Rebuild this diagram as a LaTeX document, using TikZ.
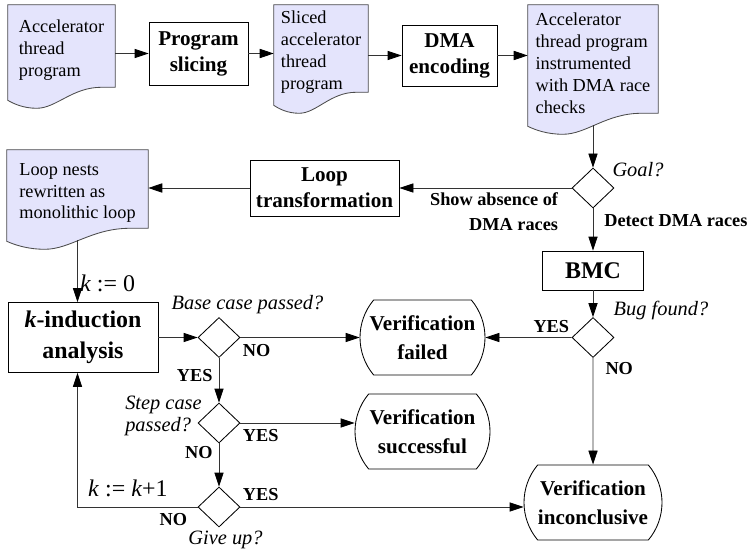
\documentclass[tikz,border=0pt]{standalone}
\usepackage{fontspec}
\setmainfont{Liberation Serif}
\usetikzlibrary{arrows.meta,shapes.geometric,shapes.misc,calc,backgrounds}
\definecolor{docfill}{RGB}{228,228,252}

% wavy lower edge of a document node, drawn behind its text
\newcommand\docwave[1]{%
  \begin{pgfonlayer}{background}
    \path[docedge] (#1.north west) -- (#1.north east) -- ([yshift=0.2cm]#1.south east)
      -- ($(#1.south west)!0.87!(#1.south east)+(0,0.2)$)
      .. controls ($(#1.south west)!0.6!(#1.south east)+(0,0.2)$)
             and ($(#1.south west)!0.45!(#1.south east)+(0,-0.325)$)
      .. ($(#1.south west)!0.27!(#1.south east)+(0,-0.325)$)
      .. controls ($(#1.south west)!0.15!(#1.south east)+(0,-0.325)$)
             and ($(#1.south west)!0.06!(#1.south east)+(0,-0.22)$)
      .. ([yshift=-0.125cm]#1.south west) -- cycle;
  \end{pgfonlayer}}

\begin{document}
\begin{tikzpicture}[
  docu/.style    = {rectangle, align=left, inner sep=0pt,
                    font=\fontsize{13}{15.6}\selectfont},
  proc/.style    = {draw, semithick, rectangle, align=center,
                    font=\fontsize{15}{18.5}\selectfont\bfseries},
  term/.style    = {draw, semithick, rounded rectangle, rounded rectangle arc length=80,
                    align=center, minimum height=1.875cm, inner sep=0pt,
                    font=\fontsize{15}{20.5}\selectfont\bfseries},
  cond/.style    = {draw, semithick, diamond, minimum width=1.05cm, minimum height=1cm,
                    inner sep=0pt},
  quest/.style   = {font=\fontsize{14.5}{15.5}\selectfont\itshape, align=left, inner sep=0pt},
  yesno/.style   = {font=\fontsize{13}{17.5}\selectfont\bfseries, align=right, inner sep=1.5pt},
  klbl/.style    = {font=\fontsize{17}{20}\selectfont, inner sep=1.5pt},
  flow/.style    = {draw=black!80, semithick, -{Triangle[length=0.35cm,width=0.23cm,black]}},
  docedge/.style = {draw=black!70, fill=docfill, semithick},
]
  \useasboundingbox (0,0) rectangle (18.8,13.875);

  % top row: program pipeline
  \node[docu, minimum width=2.675cm, minimum height=2.25cm] (acc) at (1.5375,12.625)
    {Accelerator\\thread\\program};
  \node[proc, minimum width=2.475cm, minimum height=1.575cm] (slicing) at (4.9625,12.5375)
    {Program\\slicing};
  \node[docu, minimum width=2.35cm, minimum height=2.375cm] (sliced) at (8.025,12.5625)
    {Sliced\\accelerator\\thread\\program};
  \node[proc, minimum width=2.375cm, minimum height=1.525cm] (dma) at (11.2375,12.4875)
    {DMA\\encoding};
  \node[docu, minimum width=3.25cm, minimum height=2.9cm] (instr) at (14.825,12.3)
    {Accelerator\\thread program\\instrumented\\with DMA race\\checks};
  \docwave{acc}
  \docwave{sliced}
  \docwave{instr}

  % choice of goal
  \node[cond] (goal) at (14.825,9.175) {};
  \node[quest] (goalq) at (15.95,9.625) {Goal?};
  \node[proc, minimum width=3.725cm, minimum height=1.4cm] (looptr) at (8.1125,9.175)
    {Loop\\transformation};
  \node[docu, minimum width=3.525cm, minimum height=2.15cm] (nests) at (1.9375,9.05)
    {Loop nests\\rewritten as\\monolithic loop};
  \docwave{nests}
  \node[proc, minimum width=2.525cm, minimum height=0.975cm,
        font=\fontsize{17}{22}\selectfont\bfseries] (bmc) at (14.825,7.1125) {BMC};

  % checks and outcomes
  \node[cond] (bug) at (14.825,5.4375) {};
  \node[quest] (bugq) at (16.525,6.125) {Bug found?};
  \node[proc, minimum width=3.75cm, minimum height=1.75cm,
        font=\fontsize{17}{22}\selectfont\bfseries] (kind) at (2.075,5.4375)
    {{\itshape k}-induction\\analysis};
  \node[cond] (base) at (5.475,5.4375) {};
  \node[quest] (baseq) at (6.1875,6.25) {Base case passed?};
  \node[cond] (stepc) at (5.475,3.3) {};
  \node[quest] (stepq) at (4.0875,3.475) {Step case\\passed?};
  \node[cond] (giveup) at (5.475,1.2) {};
  \node[quest] (giveq) at (5.6375,0.375) {Give up?};
  \node[term, minimum width=3.125cm] (failed) at (10.5625,5.4375) {Verification\\failed};
  \node[term, minimum width=3.375cm] (succ) at (10.5625,3.0875) {Verification\\successful};
  \node[term, minimum width=3.45cm] (inconc) at (14.825,1.3125) {Verification\\inconclusive};

  \draw[flow] (acc.east |- slicing) -- (slicing);
  \draw[flow] (slicing) -- (slicing -| sliced.west);
  \draw[flow] (sliced.east |- dma) -- (dma);
  \draw[flow] (dma) -- (dma -| instr.west);
  \draw[flow] ([yshift=-0.1cm]instr.south) -- (goal);
  \draw[flow] (goal) -- node[yesno, pos=0.064, anchor=north east, yshift=-0.05cm]
    {Show absence of\\DMA races} (looptr);
  \draw[flow] (looptr) -- (looptr -| nests.east);
  \draw[flow] ([yshift=-0.1cm]nests.south) -- node[klbl, pos=0.7, anchor=west]
    {\textit{k} := 0} (nests.south |- kind.north);
  \draw[flow] (goal) -- node[yesno, pos=0.28, anchor=west, xshift=0.22cm]
    {Detect DMA races} (bmc);
  \draw[flow] (bmc) -- (bug);
  \draw[flow] (bug) -- node[yesno, pos=0, anchor=south east, yshift=0.05cm] {YES} (failed);
  \draw[flow] (bug) -- node[yesno, pos=0, anchor=north west, xshift=0.25cm, yshift=-0.05cm]
    {NO} (inconc);
  \draw[flow] (kind) -- (base);
  \draw[flow] (base) -- node[yesno, pos=0, anchor=north west, yshift=-0.1cm] {NO} (failed);
  \draw[flow] (base) -- node[yesno, pos=0.4, anchor=east, xshift=-0.1cm] {YES} (stepc);
  \draw[flow] (stepc) -- node[yesno, pos=0, anchor=north west, yshift=-0.1cm]
    {YES} (stepc -| succ.west);
  \draw[flow] (stepc) -- node[yesno, pos=0, anchor=north east, xshift=-0.1cm] {NO} (giveup);
  \draw[flow] (giveup) -- node[yesno, pos=0, anchor=south west, yshift=0.1cm]
    {YES} (giveup -| inconc.west);
  % not given up: next k, back to the analysis
  \draw[flow] (giveup.west) -| node[yesno, pos=0, anchor=north east, xshift=-0.2cm, yshift=-0.1cm] {NO}
    node[klbl, pos=0.29, above=0.2cm] {\textit{k} := \textit{k}+1} (nests.south |- kind.south);
\end{tikzpicture}
\end{document}
